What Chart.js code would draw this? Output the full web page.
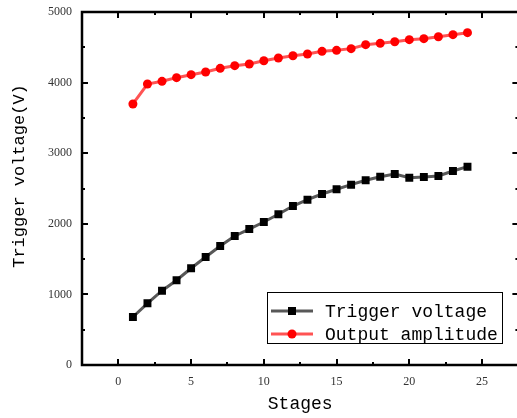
<!DOCTYPE html>
<html>
<head>
<meta charset="utf-8">
<script src="https://cdn.jsdelivr.net/npm/chart.js@4"></script>
<style>
  html, body { margin: 0; padding: 0; background: #fff; overflow: hidden; }
  #wrap { width: 524px; height: 418px; }
</style>
</head>
<body>
<div id="wrap"><canvas id="chart" width="524" height="418"></canvas></div>
<script>
// --- data ---
const stages = [1, 2, 3, 4, 5, 6, 7, 8, 9, 10, 11, 12, 13, 14, 15, 16, 17, 18, 19, 20, 21, 22, 23, 24];
const triggerVoltage = [680, 874, 1052, 1200, 1370, 1530, 1686, 1827, 1926, 2025, 2135, 2252,
                        2341, 2422, 2489, 2554, 2616, 2667, 2705, 2653, 2663, 2677, 2748, 2809];
const outputAmplitude = [3697, 3980, 4018, 4070, 4112, 4150, 4202, 4240, 4263, 4310, 4348, 4381,
                         4405, 4443, 4457, 4481, 4537, 4556, 4579, 4608, 4622, 4650, 4679, 4707];
const xTicks = [0, 5, 10, 15, 20, 25];
const yTicks = [0, 1000, 2000, 3000, 4000, 5000];
const seriesNames = ['Trigger voltage', 'Output amplitude'];
const yTitle = 'Trigger voltage(V)';

const monoFont = "'Liberation Mono', 'DejaVu Sans Mono', monospace";
const serifFont = "'Liberation Serif', 'DejaVu Serif', serif";

function toPoints(xs, ys) {
    return xs.map((x, i) => ({ x: x, y: ys[i] }));
}

// frame + inward ticks on all four sides, plus the y title
const framePlugin = {
    id: 'frame',
    afterDatasetsDraw(chart) {
        const { ctx, chartArea: a, scales } = chart;
        const sx = scales.x, sy = scales.y;
        ctx.save();
        ctx.strokeStyle = '#000';
        ctx.lineWidth = 2;
        for (let v = -2.5; v <= 27.5; v += 2.5) {
            if (v < sx.min || v > sx.max) continue;
            const px = Math.round(sx.getPixelForValue(v));
            const len = (v % 5 === 0) ? 6 : 3;
            ctx.beginPath();
            ctx.moveTo(px, a.bottom); ctx.lineTo(px, a.bottom - len);
            ctx.moveTo(px, a.top); ctx.lineTo(px, a.top + len);
            ctx.stroke();
        }
        for (let v = 0; v <= 5000; v += 500) {
            const py = Math.round(sy.getPixelForValue(v));
            const len = (v % 1000 === 0) ? 6 : 3;
            ctx.beginPath();
            ctx.moveTo(a.left, py); ctx.lineTo(a.left + len, py);
            ctx.moveTo(a.right, py); ctx.lineTo(a.right - len, py);
            ctx.stroke();
        }
        ctx.lineWidth = 2.5;
        ctx.strokeRect(a.left, a.top, a.right - a.left, a.bottom - a.top);

        // y axis title, a bit above the middle like the reference
        ctx.translate(19, 176);
        ctx.rotate(-Math.PI / 2);
        ctx.fillStyle = '#000';
        ctx.font = '17px ' + monoFont;
        ctx.textAlign = 'center';
        ctx.textBaseline = 'middle';
        ctx.fillText(yTitle, 0, 0);
        ctx.restore();
    }
};

// legend box inside the plot, lower right
const legendPlugin = {
    id: 'boxLegend',
    afterDraw(chart) {
        const ctx = chart.ctx;
        const x0 = 267, y0 = 292, w = 235, h = 51;
        ctx.save();
        ctx.fillStyle = '#fff';
        ctx.fillRect(x0, y0, w, h);
        ctx.strokeStyle = '#000';
        ctx.lineWidth = 1;
        ctx.strokeRect(x0 + 0.5, y0 + 0.5, w, h);
        chart.data.datasets.forEach((ds, i) => {
            const cy = y0 + 19 + i * 23;
            ctx.strokeStyle = ds.borderColor;
            ctx.lineWidth = 3;
            ctx.beginPath();
            ctx.moveTo(x0 + 4, cy); ctx.lineTo(x0 + 46, cy);
            ctx.stroke();
            ctx.fillStyle = ds.pointBackgroundColor;
            if (ds.pointStyle === 'rect') {
                ctx.fillRect(x0 + 21, cy - 4, 8, 8);
            } else {
                ctx.beginPath();
                ctx.arc(x0 + 25, cy, 4.5, 0, Math.PI * 2);
                ctx.fill();
            }
            ctx.fillStyle = '#000';
            ctx.font = '18px ' + monoFont;
            ctx.textBaseline = 'middle';
            ctx.fillText(ds.label, x0 + 58, cy + 1);
        });
        ctx.restore();
    }
};

const ctx = document.getElementById('chart').getContext('2d');
new Chart(ctx, {
    type: 'scatter',
    data: {
        datasets: [{
            label: seriesNames[0],
            data: toPoints(stages, triggerVoltage),
            showLine: true,
            borderColor: 'rgba(70,70,70,0.9)',
            borderWidth: 3,
            pointStyle: 'rect',
            pointRadius: 5.6,
            pointBackgroundColor: '#000',
            pointBorderColor: '#000',
            pointBorderWidth: 0
        }, {
            label: seriesNames[1],
            data: toPoints(stages, outputAmplitude),
            showLine: true,
            borderColor: 'rgba(255,40,40,0.8)',
            borderWidth: 3,
            pointStyle: 'circle',
            pointRadius: 4.5,
            pointBackgroundColor: '#ff0000',
            pointBorderColor: '#ff0000',
            pointBorderWidth: 0
        }]
    },
    options: {
        responsive: false,
        animation: false,
        layout: { padding: { left: 0, right: 0, top: 12, bottom: 0 } },
        plugins: {
            legend: { display: false },
            tooltip: { enabled: false }
        },
        scales: {
            x: {
                type: 'linear',
                min: -2.5,
                max: 27.5,
                border: { display: false },
                grid: { display: false, drawTicks: false },
                afterBuildTicks: (scale) => { scale.ticks = xTicks.map(v => ({ value: v })); },
                afterFit: (scale) => {
                    scale.height = 53;
                    scale.paddingLeft = 0;
                    scale.paddingRight = 0;
                },
                ticks: {
                    padding: 10,
                    color: '#333',
                    font: { family: serifFont, size: 12 },
                    maxRotation: 0,
                    callback: (v) => String(v)
                },
                title: {
                    display: true,
                    text: 'Stages',
                    color: '#000',
                    font: { family: monoFont, size: 18 },
                    padding: { top: 0, bottom: 3 }
                }
            },
            y: {
                type: 'linear',
                min: 0,
                max: 5000,
                border: { display: false },
                grid: { display: false, drawTicks: false },
                afterBuildTicks: (scale) => { scale.ticks = yTicks.map(v => ({ value: v })); },
                afterFit: (scale) => {
                    scale.width = 82;
                    scale.paddingTop = 0;
                    scale.paddingBottom = 0;
                },
                ticks: {
                    padding: 10,
                    color: '#333',
                    font: { family: serifFont, size: 12 },
                    callback: (v) => String(v)
                }
            }
        }
    },
    plugins: [framePlugin, legendPlugin]
});
</script>
</body>
</html>
